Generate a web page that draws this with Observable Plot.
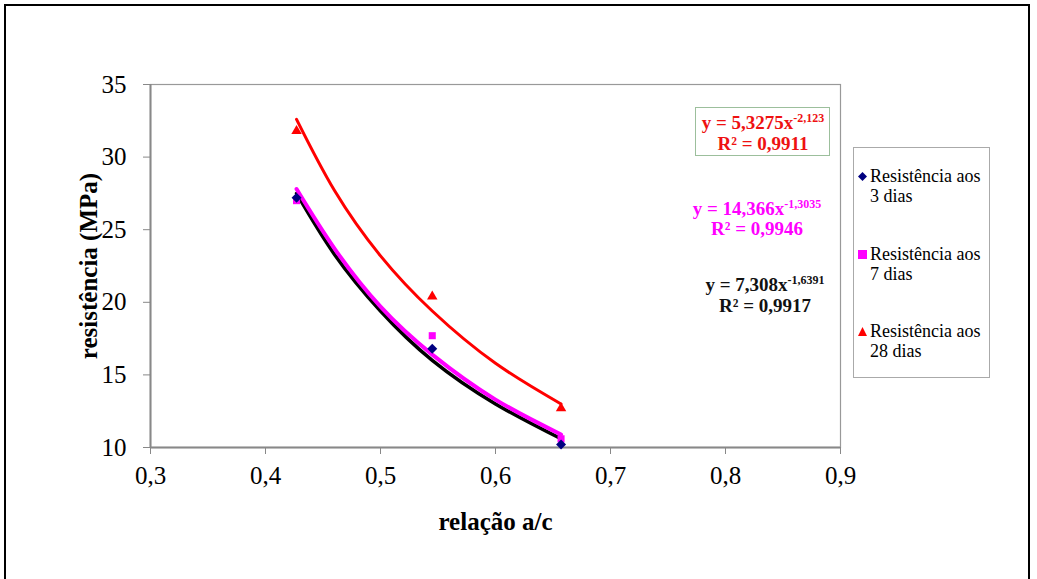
<!DOCTYPE html>
<html>
<head>
<meta charset="utf-8">
<script src="https://cdn.jsdelivr.net/npm/d3@7"></script>
<script src="https://cdn.jsdelivr.net/npm/@observablehq/plot@0.6"></script>
<style>
  body { margin: 0; background: #fff; }
  #wrap { position: relative; width: 1037px; height: 579px; overflow: hidden; background: #fff;
          font-family: "Liberation Serif", "Times New Roman", serif; }
  #outer { position: absolute; left: 4px; top: 4px; width: 1026px; height: 640px; border: 2px solid #000; box-sizing: border-box; }
  #chart { position: absolute; left: 0; top: 0; }
  #chart svg, #chart svg text { font-family: "Liberation Serif", "Times New Roman", serif !important; }
  .eq { position: absolute; transform: translate(-50%, -50%); white-space: nowrap; font-weight: bold; font-size: 19px; line-height: 19px; }
  .eq sup { font-size: 12px; vertical-align: 7px; line-height: 0; }
  #eqbox { position: absolute; left: 695px; top: 107px; width: 135px; height: 49px; border: 1px solid #9cbf9c; box-sizing: border-box; }
  #legend { position: absolute; left: 853px; top: 147px; width: 137px; height: 231px; border: 1px solid #aaa; box-sizing: border-box; }
  .lg { position: absolute; left: 870px; font-size: 18px; line-height: 20px; color: #000; white-space: nowrap; }
  .mk { position: absolute; }
</style>
</head>
<body>
<div id="wrap">
  <div id="chart"></div>
  <div id="outer"></div>
  <div id="eqbox"></div>
  <div id="legend"></div>
</div>
<script>
// ---- data ----
const razaoAC = [0.427, 0.545, 0.657];
const resist3 = [27.2, 16.8, 10.2];
const resist7 = [27.0, 17.7, 10.6];
const resist28 = [31.8, 20.4, 12.7];

// trend curves
const curveX = [0.427, 0.46, 0.5, 0.545, 0.6, 0.657];
const trend3 = [27.5, 23.3, 19.4, 16.0, 13.0, 10.6];
const trend7 = [27.8, 23.7, 19.7, 16.4, 13.3, 10.9];
const trend28 = [32.6, 27.7, 23.2, 19.4, 15.8, 13.0];

const xTicks = [0.3, 0.4, 0.5, 0.6, 0.7, 0.8, 0.9];
const yTicks = [10, 15, 20, 25, 30, 35];

const seriesNames = ["Resistência aos 3 dias", "Resistência aos 7 dias", "Resistência aos 28 dias"];
const eqLines = [
  ["y = 7,308x", "-1,6391", "R² = 0,9917"],
  ["y = 14,366x", "-1,3035", "R² = 0,9946"],
  ["y = 5,3275x", "-2,123", "R² = 0,9911"]
];
const xLabel = "relação a/c";
const yLabel = "resistência (MPa)";

// ---- build tables ----
const pts = (ys) => razaoAC.map((x, i) => ({x, y: ys[i]}));
const crv = (ys) => curveX.map((x, i) => ({x, y: ys[i]}));
const fmt = d => d.toFixed(1).replace(".", ",");
const serif = "'Liberation Serif', 'Times New Roman', serif";

const chart = Plot.plot({
  width: 1037,
  height: 579,
  marginLeft: 150,
  marginRight: 197,
  marginTop: 84,
  marginBottom: 132,
  style: {fontFamily: serif, fontSize: "25px", color: "#000", background: "transparent"},
  x: {domain: [0.3, 0.9]},
  y: {domain: [10, 35]},
  marks: [
    Plot.frame({stroke: "#999", strokeWidth: 1.2}),
    Plot.ruleX([0.3], {stroke: "#888", strokeWidth: 2}),
    Plot.ruleY([10], {stroke: "#888", strokeWidth: 2}),
    Plot.axisY({ticks: yTicks, tickSize: 7, tickPadding: 17, fontSize: 25, fontFamily: serif, stroke: "#888", label: null}),
    Plot.axisX({ticks: xTicks, tickFormat: fmt, tickSize: 7, tickPadding: 12, fontSize: 25, fontFamily: serif, stroke: "#888", label: null}),
    Plot.line(crv(trend3), {x: "x", y: "y", stroke: "#000", strokeWidth: 3.5, curve: "natural"}),
    Plot.line(crv(trend7), {x: "x", y: "y", stroke: "#ff00ff", strokeWidth: 4, curve: "natural"}),
    Plot.line(crv(trend28), {x: "x", y: "y", stroke: "#ff0000", strokeWidth: 3, curve: "natural"}),
    Plot.dot(pts(resist7), {x: "x", y: "y", symbol: "square2", fill: "#ff00ff", r: 4.5}),
    Plot.dot(pts(resist3), {x: "x", y: "y", symbol: "diamond2", fill: "#000080", r: 4.5}),
    Plot.dot(pts(resist28), {x: "x", y: "y", symbol: "triangle2", fill: "#ff0000", r: 5}),
    Plot.text([xLabel], {frameAnchor: "bottom", dy: 82, fontSize: 25, fontFamily: serif, fontWeight: "bold", fill: "#000"}),
    Plot.text([yLabel], {frameAnchor: "left", textAnchor: "middle", dx: -62, rotate: -90, fontSize: 25, fontFamily: serif, fontWeight: "bold", fill: "#000"})
  ]
});
document.getElementById("chart").appendChild(chart);

// ---- equation annotations ----
const wrap = document.getElementById("wrap");
const eqColors = ["#111", "#ff00ff", "#ee1111"];
const eqPos = [[765, 284, 305], [757, 208, 228], [763, 122, 143]];
eqLines.forEach((e, i) => {
  const a = document.createElement("div");
  a.className = "eq";
  a.style.color = eqColors[i];
  a.style.left = eqPos[i][0] + "px";
  a.style.top = eqPos[i][1] + "px";
  a.innerHTML = e[0] + "<sup>" + e[1] + "</sup>";
  wrap.appendChild(a);
  const b = document.createElement("div");
  b.className = "eq";
  b.style.color = eqColors[i];
  b.style.left = eqPos[i][0] + "px";
  b.style.top = eqPos[i][2] + "px";
  b.textContent = e[2];
  wrap.appendChild(b);
});

// ---- legend ----
const legTop = [166, 244, 321];
const legColors = ["#000080", "#ff00ff", "#ff0000"];
const legShapes = [
  '<polygon points="4,0 8,4 4,8 0,4"/>',
  '<rect x="0" y="0" width="8" height="8"/>',
  '<polygon points="4,0 8,8 0,8"/>'
];
seriesNames.forEach((name, i) => {
  const words = name.split(" ");
  const l1 = words.slice(0, 2).join(" ");
  const l2 = words.slice(2).join(" ");
  const t = document.createElement("div");
  t.className = "lg";
  t.style.top = legTop[i] + "px";
  t.innerHTML = l1 + "<br>" + l2;
  wrap.appendChild(t);
  const m = document.createElement("div");
  m.className = "mk";
  m.style.left = "858px";
  m.style.top = (legTop[i] + 6) + "px";
  m.innerHTML = '<svg width="9" height="9" viewBox="0 0 8 8" style="display:block"><g fill="' + legColors[i] + '">' + legShapes[i] + '</g></svg>';
  wrap.appendChild(m);
});
</script>
</body>
</html>
